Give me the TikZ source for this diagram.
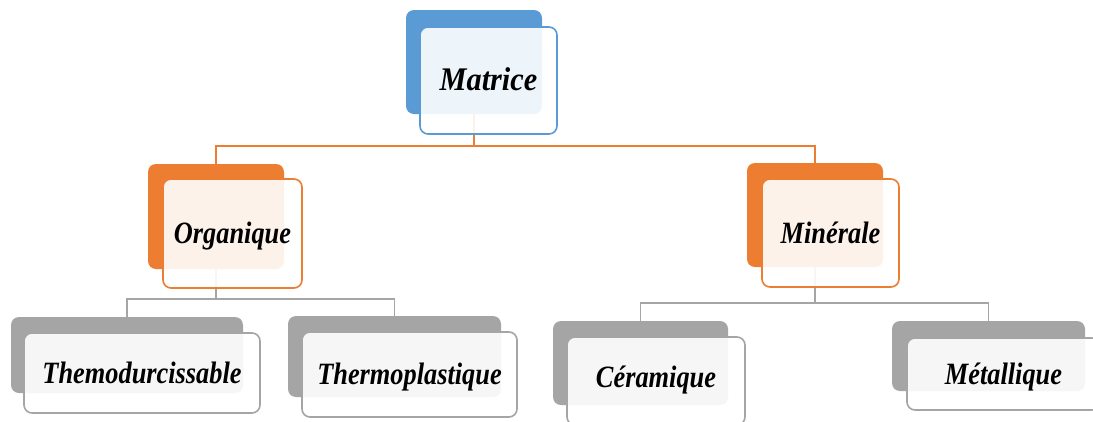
\documentclass[tikz,border=0pt]{standalone}
\usepackage{fontspec}
\newfontfamily\tnr[FakeStretch=0.85]{Liberation Serif}
\definecolor{cblue}{HTML}{5B9BD5}
\definecolor{corange}{HTML}{ED7D31}
\definecolor{cgray}{HTML}{A5A5A5}
\tikzset{
  backbox/.style={rectangle, rounded corners=8pt, inner sep=0pt, outer sep=0pt, fill=#1, draw=none},
  frontbox/.style={rectangle, rounded corners=8pt, inner sep=0pt, outer sep=0pt,
    draw=#1, line width=1.6pt, fill=white, fill opacity=0.9, text opacity=1,
    font=\tnr\bfseries\itshape\fontsize{31}{34}\selectfont, text height=20pt, text depth=0pt},
  oline/.style={draw=corange, line width=1.8pt},
  gline/.style={draw=cgray, line width=1.8pt},
}
\begin{document}
\begin{tikzpicture}[x=1pt,y=-1pt]
\clip (0,0) rectangle (1093,421);
\fill[white] (0,0) rectangle (1093,421);
% back boxes
\node[backbox=cblue, minimum width=136pt, minimum height=104pt] (mB) at (474,62) {};
\node[backbox=corange, minimum width=136pt, minimum height=105pt] (oB) at (216,216.5) {};
\node[backbox=corange, minimum width=136pt, minimum height=104pt] (miB) at (815,215) {};
\node[backbox=cgray, minimum width=232pt, minimum height=76pt] (t1B) at (127,355) {};
\node[backbox=cgray, minimum width=213pt, minimum height=81pt] (t2B) at (394.5,356.5) {};
\node[backbox=cgray, minimum width=175pt, minimum height=84pt] (cB) at (640.5,363) {};
\node[backbox=cgray, minimum width=193pt, minimum height=70pt] (meB) at (988.5,356) {};
% connectors
\coordinate (busA) at (0,146);
\coordinate (busB) at (0,299);
\coordinate (busC) at (0,303);
\draw[oline] (mB.south) -- (mB.south |- busA) -| (oB.north);
\draw[oline] (mB.south |- busA) -| (miB.north);
\draw[gline] (oB.south) -- (oB.south |- busB) -| (t1B.north);
\draw[gline] (oB.south |- busB) -| (t2B.north);
\draw[gline] (miB.south) -- (miB.south |- busC) -| (cB.north);
\draw[gline] (miB.south |- busC) -| (meB.north);
% front boxes
\node[frontbox=cblue, minimum width=137pt, minimum height=107pt] (mF) at (488.5,80.5)
  {\fontsize{33}{36}\selectfont\scalebox{1.08}[1]{Matrice}};
\node[frontbox=corange, minimum width=139pt, minimum height=109pt] (oF) at (232.5,233.5) {Organique};
\node[frontbox=corange, minimum width=137pt, minimum height=108pt] (miF) at (830.5,233) {Minérale};
\node[frontbox=cgray, minimum width=236pt, minimum height=80pt] (t1F) at (142,373) {Themodurcissable};
\node[frontbox=cgray, minimum width=215pt, minimum height=85pt] (t2F) at (409.5,374.5) {Thermoplastique};
\node[frontbox=cgray, minimum width=178pt, minimum height=88pt] (cF) at (656,381) {\raisebox{4pt}{Céramique}};
\node[frontbox=cgray, minimum width=193pt, minimum height=72pt] (meF) at (1003.5,374) {Métallique};
\end{tikzpicture}
\end{document}
